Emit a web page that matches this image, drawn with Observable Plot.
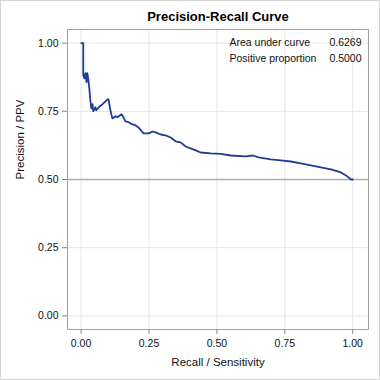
<!DOCTYPE html>
<html>
<head>
<meta charset="utf-8">
<script src="https://cdn.jsdelivr.net/npm/d3@7"></script>
<script src="https://cdn.jsdelivr.net/npm/@observablehq/plot@0.6"></script>
<style>
  html, body { margin: 0; padding: 0; background: #fff; }
  #chart svg { display: block; outline: 1px solid #d4d4d4; outline-offset: -1px; }
</style>
</head>
<body>
<div id="chart"></div>
<script>
// Data
const recall = [0.001, 0.008, 0.008, 0.012, 0.016, 0.020, 0.023, 0.027, 0.031, 0.034, 0.038, 0.042, 0.045, 0.053, 0.056, 0.068, 0.079, 0.086, 0.097, 0.101, 0.108, 0.115, 0.127, 0.134, 0.149, 0.156, 0.163, 0.175, 0.189, 0.200, 0.211, 0.230, 0.249, 0.263, 0.274, 0.293, 0.311, 0.330, 0.348, 0.366, 0.385, 0.403, 0.422, 0.440, 0.477, 0.514, 0.551, 0.606, 0.632, 0.654, 0.698, 0.735, 0.772, 0.809, 0.864, 0.920, 0.957, 0.975, 0.994, 1.000];
const precision = [1.000, 1.000, 0.882, 0.871, 0.890, 0.857, 0.890, 0.864, 0.827, 0.790, 0.761, 0.776, 0.750, 0.765, 0.754, 0.768, 0.776, 0.783, 0.794, 0.794, 0.754, 0.724, 0.732, 0.728, 0.739, 0.728, 0.713, 0.710, 0.702, 0.699, 0.691, 0.669, 0.669, 0.676, 0.673, 0.665, 0.662, 0.654, 0.640, 0.636, 0.621, 0.614, 0.607, 0.599, 0.596, 0.594, 0.588, 0.585, 0.588, 0.581, 0.574, 0.570, 0.566, 0.559, 0.548, 0.537, 0.526, 0.515, 0.500, 0.500];
const tickValues = [0, 0.25, 0.5, 0.75, 1];
const positiveProportion = 0.5;
const statLabels = ["Area under curve", "Positive proportion"];
const statValues = ["0.6269", "0.5000"];
const titleText = "Precision-Recall Curve";
const xLabel = "Recall / Sensitivity";
const yLabel = "Precision / PPV";

const pts = recall.map((r, i) => ({recall: r, precision: precision[i]}));

const font = "'Liberation Sans', Arial, sans-serif";

const statMarks = statLabels.flatMap((label, i) => [
  Plot.text([label], {frameAnchor: "top-left", dx: 162, dy: 13 + i * 16, fontSize: 10.5, fill: "#111", textAnchor: "start", lineAnchor: "middle"}),
  Plot.text([statValues[i]], {frameAnchor: "top-right", dx: -7, dy: 13 + i * 16, fontSize: 10.5, fill: "#111", textAnchor: "end", lineAnchor: "middle"})
]);

const chart = Plot.plot({
  width: 380,
  height: 380,
  marginLeft: 67,
  marginRight: 12,
  marginTop: 29,
  marginBottom: 51,
  style: {fontFamily: font, fontSize: "10.5px", color: "#111", background: "#fff"},
  x: {domain: [-0.05, 1.058]},
  y: {domain: [-0.05, 1.05]},
  marks: [
    Plot.gridX(tickValues, {stroke: "#e6e6e6", strokeOpacity: 1}),
    Plot.gridY(tickValues, {stroke: "#e6e6e6", strokeOpacity: 1}),
    Plot.ruleY([positiveProportion], {stroke: "#ababab", strokeWidth: 1.6}),
    Plot.line(pts, {x: "recall", y: "precision", stroke: "#1f3d96", strokeWidth: 1.8}),
    Plot.frame({stroke: "#a0a0a0"}),
    Plot.axisX(tickValues, {tickFormat: d3.format(".2f"), tickSize: 5, tickPadding: 5, label: null, stroke: "#888", fill: "#111"}),
    Plot.axisY(tickValues, {tickFormat: d3.format(".2f"), tickSize: 5, tickPadding: 4, label: null, stroke: "#888", fill: "#111"}),
    Plot.text([titleText], {frameAnchor: "top", dy: -13, fontSize: 13, fontWeight: "bold", fill: "#000", lineAnchor: "middle"}),
    Plot.text([xLabel], {frameAnchor: "bottom", dy: 33, fontSize: 11.5, fill: "#111", lineAnchor: "middle"}),
    Plot.text([yLabel], {frameAnchor: "left", dx: -47, rotate: -90, fontSize: 11.5, fill: "#111", lineAnchor: "middle"}),
    ...statMarks
  ]
});
document.getElementById("chart").appendChild(chart);
</script>
</body>
</html>
